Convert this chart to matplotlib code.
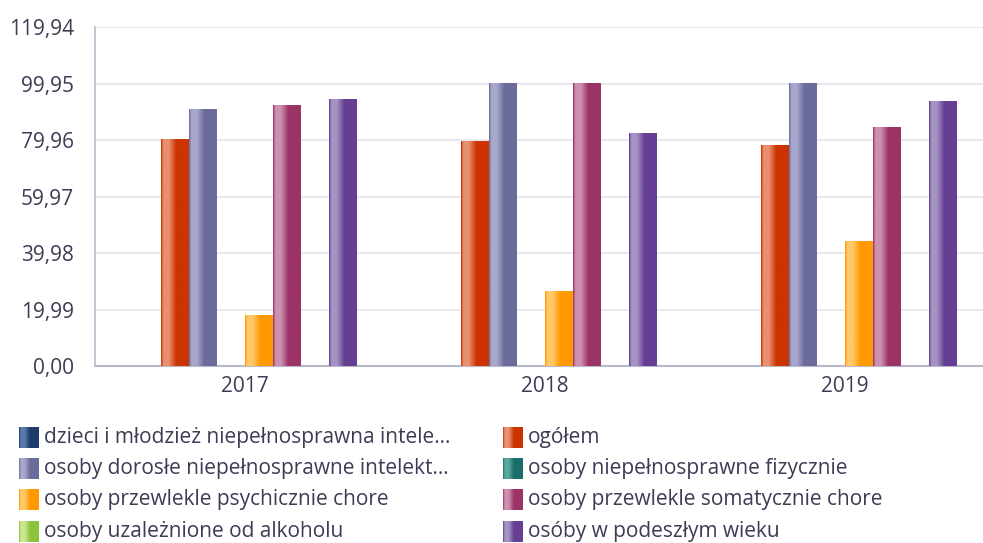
import numpy as np
import matplotlib
matplotlib.use("Agg")
import matplotlib.pyplot as plt
from matplotlib.colors import LinearSegmentedColormap

plt.rcParams['font.family'] = ['Open Sans', 'DejaVu Sans']

lata = ["2017", "2018", "2019"]
serie = [
    "dzieci i młodzież niepełnosprawna intele...",
    "ogółem",
    "osoby dorosłe niepełnosprawne intelekt...",
    "osoby niepełnosprawne fizycznie",
    "osoby przewlekle psychicznie chore",
    "osoby przewlekle somatycznie chore",
    "osoby uzależnione od alkoholu",
    "osóby w podeszłym wieku",
]
# None = brak danych
wartosci = [
    [None, None, None],
    [80.1, 79.4, 78.0],
    [90.7, 99.95, 99.95],
    [None, None, None],
    [17.9, 26.4, 44.1],
    [92.1, 99.95, 84.3],
    [None, None, None],
    [94.2, 82.2, 93.5],
]
ticki = [0.0, 19.99, 39.98, 59.97, 79.96, 99.95, 119.94]

# (jasny, ciemny) kolor dla kazdej serii
kolory = [
    ("#5a7aa8", "#1c3c6c"),
    ("#e89070", "#cc3300"),
    ("#a8a8cc", "#6c6c9c"),
    ("#5aa8a0", "#1a6e6a"),
    ("#ffc868", "#ff9900"),
    ("#cc90b0", "#9c3366"),
    ("#cce890", "#8cc43c"),
    ("#a494c4", "#663f94"),
]

tekst = "#3c3c55"


def gradient(ax, x0, x1, y0, y1, jasny, ciemny):
    cmap = LinearSegmentedColormap.from_list(
        "g", [(0, ciemny), (0.08, jasny), (0.28, jasny), (0.55, ciemny), (1, ciemny)])
    g = np.linspace(0, 1, 64).reshape(1, -1)
    ax.imshow(g, cmap=cmap, extent=(x0, x1, y0, y1), aspect="auto",
              interpolation="bilinear", zorder=3)


fig = plt.figure(figsize=(9.83, 5.43), dpi=100)
ax = fig.add_axes([95 / 983, (543 - 366) / 543, 900 / 983, (366 - 27.3) / 543])

n = len(serie)
szer = 0.0933
x = np.arange(len(lata))
for i, (vals, (jas, ciem)) in enumerate(zip(wartosci, kolory)):
    for j, v in enumerate(vals):
        if v is None:
            continue
        left = x[j] - n * szer / 2 + i * szer
        gradient(ax, left, left + szer, 0, v, jas, ciem)

ax.set_xlim(-0.5, 2.5)
ax.set_ylim(0, 119.94)
ax.set_yticks(ticki)
ax.set_yticklabels([f"{t:.2f}".replace(".", ",") for t in ticki], fontsize=15, color=tekst)
ax.set_xticks(x)
ax.set_xticklabels(lata, fontsize=15, color=tekst)
ax.tick_params(axis="y", length=0, pad=15)
ax.tick_params(axis="x", length=0, pad=7)
ax.grid(axis="y", color="#e6e6ee", linewidth=1.3, zorder=0)
ax.set_axisbelow(True)
for s in ["top", "right"]:
    ax.spines[s].set_visible(False)
ax.spines["left"].set_color("#c0c0d4")
ax.spines["bottom"].set_color("#b8b8cc")
ax.spines["left"].set_linewidth(1.3)
ax.spines["bottom"].set_linewidth(1.5)

# legenda w pikselach
lax = fig.add_axes([0, 0, 1, 1])
lax.set_xlim(0, 983)
lax.set_ylim(543, 0)
lax.axis("off")
for i, (nazwa, (jas, ciem)) in enumerate(zip(serie, kolory)):
    kol, wiersz = i % 2, i // 2
    px = 19 if kol == 0 else 503
    py = 437.5 + wiersz * 31.2
    gradient(lax, px, px + 20, py + 10.5, py - 10.5, jas, ciem)
    lax.text(px + 25, py, nazwa, fontsize=15, color=tekst, va="center", ha="left")

fig.savefig("out.png", dpi=100)
